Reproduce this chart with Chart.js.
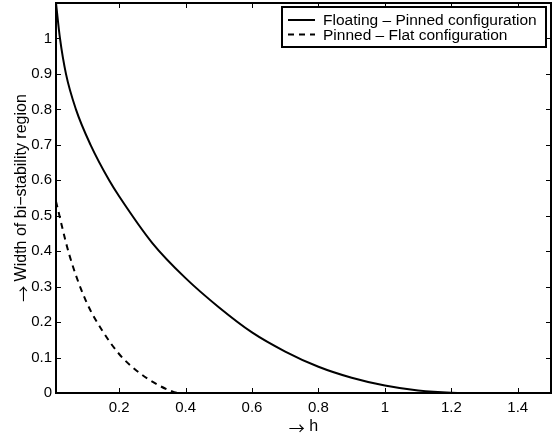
<!DOCTYPE html>
<html>
<head>
<meta charset="utf-8">
<script src="https://cdn.jsdelivr.net/npm/chart.js@4/dist/chart.umd.min.js"></script>
<style>
  html, body { margin: 0; padding: 0; background: #fff; }
</style>
</head>
<body>
<canvas id="myChart" width="553" height="437"></canvas>
<script>
// h values and widths
var hFloating = [0.01, 0.022, 0.04, 0.07, 0.114, 0.17, 0.2, 0.3, 0.4, 0.5, 0.6, 0.7, 0.8, 0.9, 1.0, 1.1, 1.2, 1.3, 1.4, 1.5];
var wFloating = [1.10, 1.0, 0.9, 0.8, 0.7, 0.6, 0.555, 0.423, 0.324, 0.242, 0.171, 0.117, 0.074, 0.043, 0.021, 0.007, 0.001, 0, 0, 0];
var hPinned = [0.01, 0.05, 0.1, 0.15, 0.2, 0.25, 0.3, 0.35, 0.38, 0.5, 1.0, 1.5];
var wPinned = [0.54, 0.39, 0.26, 0.175, 0.11, 0.065, 0.032, 0.008, 0, 0, 0, 0];
var xTicks = [0.2, 0.4, 0.6, 0.8, 1, 1.2, 1.4];
var yTicks = [0, 0.1, 0.2, 0.3, 0.4, 0.5, 0.6, 0.7, 0.8, 0.9, 1];
var labels = ['Floating \u2013 Pinned configuration', 'Pinned \u2013 Flat configuration'];
var xTitle = 'h';
var yTitle = 'Width of bi\u2212stability region';

var FONT = '"Liberation Sans", Arial, sans-serif';
var ARROW_FONT = '"Noto Sans CJK SC", "DejaVu Sans", sans-serif';

function pts(xs, ys) {
    return xs.map(function (x, i) { return { x: x, y: ys[i] }; });
}

// arrow + text, arrow in a font where it reads like the original
function arrowLabel(c, text, cx, cy) {
    c.font = '16px ' + ARROW_FONT;
    var aw = c.measureText('\u2192').width;
    c.font = '16px ' + FONT;
    var tw = c.measureText(' ' + text).width;
    var x0 = cx - (aw + tw) / 2;
    c.textAlign = 'left';
    c.textBaseline = 'middle';
    c.font = '16px ' + ARROW_FONT;
    c.fillText('\u2192', x0, cy + 1);
    c.font = '16px ' + FONT;
    c.fillText(' ' + text, x0 + aw, cy);
}

// inward ticks on all four sides, box round the plot, boxed legend, titles
var matlabBox = {
    id: 'matlabBox',
    afterDraw: function (chart) {
        var c = chart.ctx, a = chart.chartArea;
        var sx = chart.scales.x, sy = chart.scales.y;
        c.save();
        c.strokeStyle = '#000';
        c.fillStyle = '#000';
        c.lineWidth = 1;
        c.beginPath();
        xTicks.forEach(function (v) {
            var p = Math.round(sx.getPixelForValue(v)) + 0.5;
            c.moveTo(p, a.bottom); c.lineTo(p, a.bottom - 5);
            c.moveTo(p, a.top); c.lineTo(p, a.top + 5);
        });
        yTicks.forEach(function (v) {
            var p = Math.round(sy.getPixelForValue(v)) + 0.5;
            c.moveTo(a.left, p); c.lineTo(a.left + 5, p);
            c.moveTo(a.right, p); c.lineTo(a.right - 5, p);
        });
        c.stroke();
        c.lineWidth = 2;
        c.strokeRect(a.left, a.top, a.right - a.left, a.bottom - a.top);

        // axis titles
        arrowLabel(c, xTitle, (a.left + a.right) / 2, 427);
        c.save();
        c.translate(22, (a.top + a.bottom) / 2);
        c.rotate(-Math.PI / 2);
        arrowLabel(c, yTitle, 0, 0);
        c.restore();

        // legend
        var bw = 264, bh = 40;
        var bx = a.right - 5 - bw, by = a.top + 4;
        c.fillStyle = '#fff';
        c.fillRect(bx, by, bw, bh);
        c.lineWidth = 2;
        c.strokeRect(bx, by, bw, bh);
        c.font = '15.5px ' + FONT;
        c.textAlign = 'left';
        c.textBaseline = 'middle';
        c.fillStyle = '#000';
        chart.data.datasets.forEach(function (ds, i) {
            var yy = by + 13 + i * 14.5;
            c.beginPath();
            c.lineWidth = 2;
            c.setLineDash(ds.borderDash || []);
            c.moveTo(bx + 6, yy);
            c.lineTo(bx + 33, yy);
            c.stroke();
            c.setLineDash([]);
            c.fillText(ds.label, bx + 41, yy + 1);
        });
        c.restore();
    }
};

var ctx = document.getElementById('myChart').getContext('2d');
var myChart = new Chart(ctx, {
    type: 'line',
    data: {
        datasets: [{
            label: labels[0],
            data: pts(hFloating, wFloating),
            borderColor: '#000',
            borderWidth: 2,
            pointRadius: 0,
            fill: false,
            cubicInterpolationMode: 'monotone'
        }, {
            label: labels[1],
            data: pts(hPinned, wPinned),
            borderColor: '#000',
            borderWidth: 2,
            borderDash: [6, 5],
            pointRadius: 0,
            fill: false,
            cubicInterpolationMode: 'monotone'
        }]
    },
    options: {
        responsive: false,
        animation: false,
        layout: { padding: { top: 3, right: 2, left: 0, bottom: 0 } },
        plugins: {
            legend: { display: false },
            tooltip: { enabled: false }
        },
        scales: {
            x: {
                type: 'linear',
                min: 0.01,
                max: 1.5,
                afterBuildTicks: function (s) { s.ticks = xTicks.map(function (v) { return { value: v }; }); },
                afterFit: function (s) { s.height = 44; s.paddingLeft = 0; s.paddingRight = 0; },
                grid: { display: false, drawTicks: false },
                border: { display: false },
                ticks: {
                    color: '#000',
                    padding: 6,
                    maxRotation: 0,
                    font: { family: FONT, size: 15 },
                    callback: function (v) { return String(Number(v.toFixed(2))); }
                }
            },
            y: {
                type: 'linear',
                min: 0,
                max: 1.1,
                afterBuildTicks: function (s) { s.ticks = yTicks.map(function (v) { return { value: v }; }); },
                afterFit: function (s) { s.width = 56; s.paddingTop = 0; s.paddingBottom = 0; },
                grid: { display: false, drawTicks: false },
                border: { display: false },
                ticks: {
                    color: '#000',
                    padding: 4,
                    font: { family: FONT, size: 15 },
                    callback: function (v) { return String(Number(v.toFixed(2))); }
                }
            }
        }
    },
    plugins: [matlabBox]
});
</script>
</body>
</html>
